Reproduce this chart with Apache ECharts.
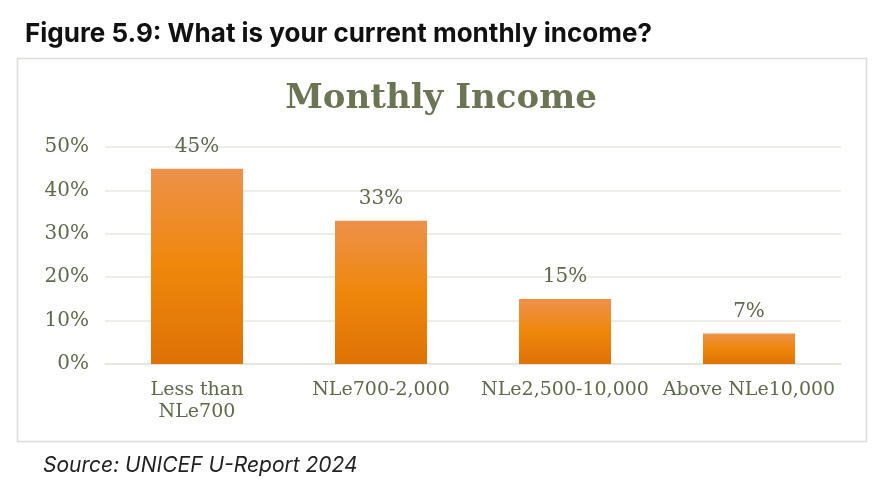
<!DOCTYPE html>
<html lang="en">
<head>
  <meta charset="UTF-8" />
  <title>Figure 5.9: What is your current monthly income?</title>
  <script src="https://cdn.jsdelivr.net/npm/echarts@6/dist/echarts.min.js"></script>
  <style>
    html, body, #main {
      margin: 0; padding: 0; width: 100%; height: 100%;
      background: #ffffff;
    }
  </style>
</head>
<body>
  <div id="main"></div>
  <script>
    const categories = ['Less than\nNLe700', 'NLe700-2,000', 'NLe2,500-10,000', 'Above NLe10,000'];
    const shares = [45, 33, 15, 7];
    const yTicks = [0, 10, 20, 30, 40, 50];

    const textColor = '#5f6a4c';
    const serif = '"DejaVu Serif", "Liberation Serif", serif';

    const chart = echarts.init(document.getElementById('main'));

    chart.setOption({
      animation: false,
      graphic: [
        {
          type: 'rect',
          shape: { x: 17.5, y: 58.5, width: 849, height: 383 },
          style: { fill: '#fff', stroke: '#dcdcd8', lineWidth: 1.5 },
          z: -10
        }
      ],
      title: [
        {
          text: 'Figure 5.9: What is your current monthly income?',
          left: 20,
          top: 16,
          textStyle: { fontFamily: 'Inter, Roboto, sans-serif', fontWeight: 'bold', fontSize: 26, color: '#111' }
        },
        {
          text: 'Monthly Income',
          left: 'center',
          top: 77,
          textStyle: { fontFamily: serif, fontWeight: 'bold', fontSize: 34, color: '#6b7553' }
        },
        {
          text: 'Source: UNICEF U-Report 2024',
          left: 38,
          top: 450,
          textStyle: { fontFamily: 'Inter, Roboto, sans-serif', fontStyle: 'italic', fontWeight: 'normal', fontSize: 21, color: '#222' }
        }
      ],
      grid: { left: 105, right: 41, top: 147, bottom: 126 },
      xAxis: {
        type: 'category',
        data: categories,
        axisLine: { lineStyle: { color: '#e3e3dc', width: 1.5 } },
        axisTick: { show: false },
        axisLabel: {
          interval: 0,
          margin: 15,
          fontFamily: serif,
          fontSize: 19,
          lineHeight: 22,
          color: textColor
        }
      },
      yAxis: {
        type: 'value',
        min: yTicks[0],
        max: yTicks[yTicks.length - 1],
        interval: 10,
        axisLine: { show: false },
        axisTick: { show: false },
        splitLine: { lineStyle: { color: '#e8e8e2', width: 1.5 } },
        axisLabel: {
          margin: 16,
          fontFamily: serif,
          fontSize: 20,
          color: textColor,
          formatter: v => v + '%'
        }
      },
      series: [
        {
          type: 'bar',
          data: shares,
          barWidth: '50%',
          itemStyle: {
            color: new echarts.graphic.LinearGradient(0, 0, 0, 1, [
              { offset: 0, color: '#ee914a' },
              { offset: 0.5, color: '#ef870c' },
              { offset: 1, color: '#de7205' }
            ])
          },
          label: {
            show: true,
            position: 'top',
            distance: 12,
            fontFamily: serif,
            fontSize: 20,
            color: textColor,
            formatter: p => p.value + '%'
          }
        }
      ]
    });
  </script>
</body>
</html>
